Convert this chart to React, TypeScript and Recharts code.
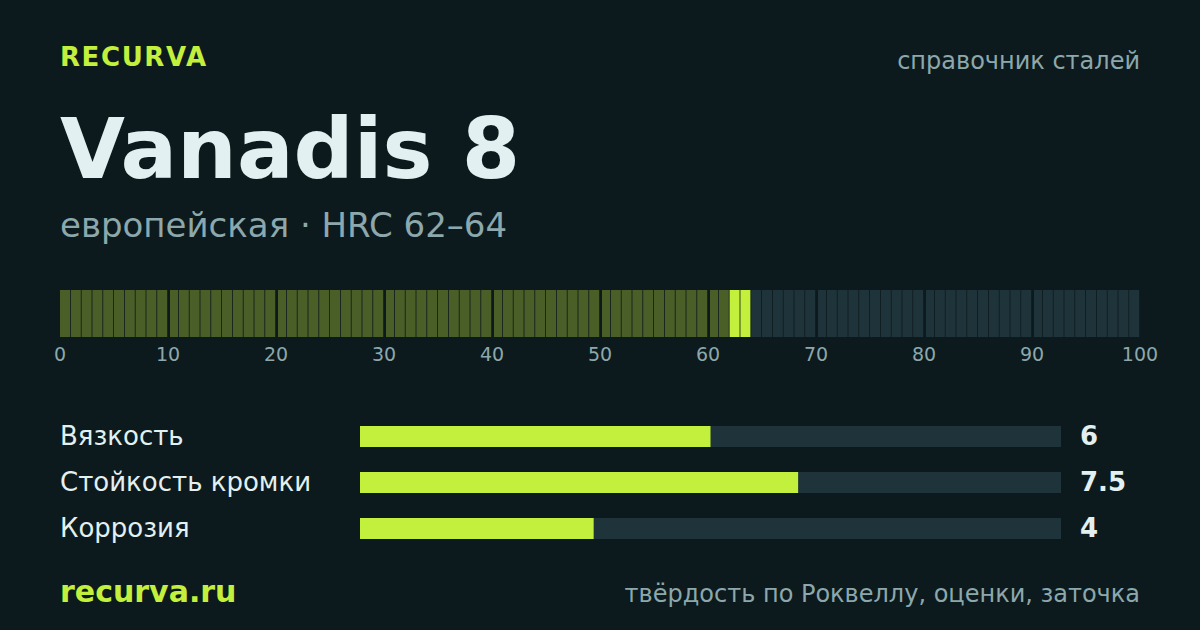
import { Bar, BarChart, Cell, XAxis, YAxis } from "recharts";

const BG = "#0d1a1d";
const LIME = "#c3f03c";
const OLIVE = "#4a5e28";
const TRACK = "#1e343a";
const INK = "#e3f0f1";
const MUTED = "#8ca8ac";
const FONT = "'DejaVu Sans', sans-serif";

const steelName = "Vanadis 8";
const steelOrigin = "европейская";
const hrcRange = [62, 64];
const hrcScaleMax = 100;
const hrcTicks = [0, 10, 20, 30, 40, 50, 60, 70, 80, 90, 100];

const scoreLabels = ["Вязкость", "Стойкость кромки", "Коррозия"];
const scoreValues = [6, 7.5, 4];
const scoreMax = 12;

// one cell per HRC unit, positioned by the number axis at the cell middle
const hrcCells = Array.from({ length: hrcScaleMax }, (_, i) => ({
  hrc: i + 0.5,
  unit: i,
  full: 1,
}));

const scoreRows = scoreLabels.map((label, i) => ({
  label,
  score: scoreValues[i],
  shown: String(scoreValues[i]),
}));

const cellColor = (unit: number) => {
  if (unit >= hrcRange[0] && unit < hrcRange[1]) return LIME;
  if (unit < hrcRange[0]) return OLIVE;
  return TRACK;
};

const SegmentShape = (props: any) => {
  const { x, y, width, height, fill, payload } = props;
  const lead = payload.unit % 10 === 0 && payload.unit > 0 ? 2 : 0;
  return <rect x={x + lead} y={y} width={width - 1 - lead} height={height} fill={fill} />;
};

const LabelTick = (props: any) => {
  const { y, payload } = props;
  return (
    <text x={60} y={y} dy={9} fill={INK} fontSize={26} fontFamily={FONT}>
      {payload.value}
    </text>
  );
};

const ValueTick = (props: any) => {
  const { x, y, payload } = props;
  return (
    <text x={x + 11} y={y} dy={9} fill={INK} fontSize={26} fontWeight={700} fontFamily={FONT}>
      {payload.value}
    </text>
  );
};

export default function App() {
  return (
    <div
      style={{
        position: "absolute",
        left: 0,
        top: 0,
        width: 1200,
        height: 630,
        background: BG,
        overflow: "hidden",
        fontFamily: FONT,
      }}
    >
      <svg width={1200} height={630} style={{ position: "absolute", left: 0, top: 0 }}>
        <text x={60} y={66} fill={LIME} fontSize={26} fontWeight={700} letterSpacing={1.6} fontFamily={FONT}>
          RECURVA
        </text>
        <text x={1140} y={69} fill={MUTED} fontSize={24} textAnchor="end" fontFamily={FONT}>
          справочник сталей
        </text>
        <text x={60} y={178} fill={INK} fontSize={84} fontWeight={700} fontFamily={FONT}>
          {steelName}
        </text>
        <text x={60} y={237} fill={MUTED} fontSize={34} fontFamily={FONT}>
          {`${steelOrigin} · HRC ${hrcRange[0]}–${hrcRange[1]}`}
        </text>
        <text x={60} y={602} fill={LIME} fontSize={30} fontWeight={700} fontFamily={FONT}>
          recurva.ru
        </text>
        <text x={1140} y={602} fill={MUTED} fontSize={24} textAnchor="end" fontFamily={FONT}>
          твёрдость по Роквеллу, оценки, заточка
        </text>
      </svg>

      <div style={{ position: "absolute", left: 0, top: 290 }}>
        <BarChart
          width={1200}
          height={85}
          data={hrcCells}
          margin={{ top: 0, right: 60, bottom: 0, left: 60 }}
          barCategoryGap={0}
          barGap={0}
          style={{ overflow: "visible" }}
        >
          <XAxis
            type="number"
            dataKey="hrc"
            domain={[0, hrcScaleMax]}
            ticks={hrcTicks}
            interval={0}
            axisLine={false}
            tickLine={false}
            tickMargin={5}
            height={38}
            tick={{ fill: MUTED, fontSize: 19, fontFamily: FONT }}
          />
          <YAxis hide domain={[0, 1]} />
          <Bar dataKey="full" shape={<SegmentShape />} isAnimationActive={false}>
            {hrcCells.map((c) => (
              <Cell key={c.unit} fill={cellColor(c.unit)} />
            ))}
          </Bar>
        </BarChart>
      </div>

      <div style={{ position: "absolute", left: 0, top: 413 }}>
        <BarChart
          layout="vertical"
          width={1200}
          height={138}
          data={scoreRows}
          margin={{ top: 0, right: 0, bottom: 0, left: 0 }}
          barSize={21}
          style={{ overflow: "visible" }}
        >
          <XAxis type="number" hide domain={[0, scoreMax]} />
          <YAxis
            yAxisId="left"
            type="category"
            dataKey="label"
            width={360}
            axisLine={false}
            tickLine={false}
            tick={<LabelTick />}
          />
          <YAxis
            yAxisId="right"
            orientation="right"
            type="category"
            dataKey="shown"
            width={139}
            axisLine={false}
            tickLine={false}
            tick={<ValueTick />}
          />
          <Bar
            yAxisId="left"
            dataKey="score"
            fill={LIME}
            background={{ fill: TRACK }}
            isAnimationActive={false}
          />
        </BarChart>
      </div>
    </div>
  );
}
